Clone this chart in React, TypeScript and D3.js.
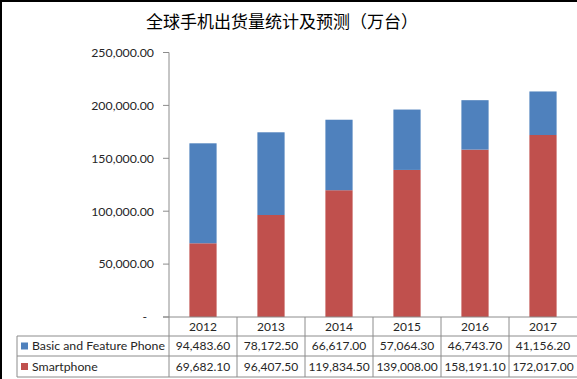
import React from "react";
import * as d3 from "d3";

const title = "全球手机出货量统计及预测（万台）";
const years = ["2012", "2013", "2014", "2015", "2016", "2017"];
const seriesNames = ["Basic and Feature Phone", "Smartphone"];
const basicValues = [94483.6, 78172.5, 66617.0, 57064.3, 46743.7, 41156.2];
const smartValues = [69682.1, 96407.5, 119834.5, 139008.0, 158191.1, 172017.0];
const yTicks = [0, 50000, 100000, 150000, 200000, 250000];
const colors = ["#4F81BD", "#C0504D"];

const W = 577;
const H = 379;
const plotLeft = 169;
const plotRight = 577;
const plotTop = 52.5;
const plotBottom = 317;
const rowLines = [317, 336, 356, 377];
const font = "Lato, 'Open Sans', sans-serif";
const textColor = "#262626";
const gridColor = "#8c8c8c";

export default function App() {
  const x = d3
    .scaleBand<string>()
    .domain(years)
    .range([plotLeft, plotRight])
    .paddingInner(0.6)
    .paddingOuter(0.3);
  const col = d3.scaleBand<string>().domain(years).range([plotLeft, plotRight]).padding(0);
  const y = d3.scaleLinear().domain([0, 250000]).range([plotBottom, plotTop]);
  const fmt = d3.format(",.2f");

  const data = years.map((yr, i) => ({ year: yr, smart: smartValues[i], basic: basicValues[i] }));
  const stack = d3.stack<any>().keys(["smart", "basic"])(data);
  const colorFor: Record<string, string> = { smart: colors[1], basic: colors[0] };

  const rows = [
    { name: seriesNames[0], color: colors[0], values: basicValues },
    { name: seriesNames[1], color: colors[1], values: smartValues },
  ];

  return (
    <div style={{ position: "absolute", left: 0, top: 0 }}>
      <svg width={W} height={H} style={{ display: "block", background: "#fff" }}>
        <rect x={0} y={0} width={W} height={H} fill="#fff" />
        {/* frame */}
        <line x1={0} y1={1} x2={W} y2={1} stroke="#000" strokeWidth={2} />
        <line x1={1} y1={0} x2={1} y2={H} stroke="#000" strokeWidth={2} />

        <text
          x={282}
          y={28}
          textAnchor="middle"
          fontFamily="'Noto Sans CJK SC', sans-serif"
          fontSize={17}
          fill="#000"
        >
          {title}
        </text>

        {/* bars */}
        {stack.map((layer) => (
          <g key={layer.key} fill={colorFor[layer.key]}>
            {layer.map((d, i) => (
              <rect
                key={i}
                x={x(years[i])}
                y={y(d[1])}
                width={x.bandwidth()}
                height={y(d[0]) - y(d[1])}
              />
            ))}
          </g>
        ))}

        {/* y axis */}
        <line x1={plotLeft} y1={plotTop} x2={plotLeft} y2={H - 2} stroke={gridColor} strokeWidth={1} />
        {yTicks.map((t) => (
          <g key={t}>
            <line x1={plotLeft - 6} x2={plotLeft} y1={y(t)} y2={y(t)} stroke={gridColor} />
            <text
              x={t === 0 ? 147 : 154}
              y={y(t)}
              dy="0.35em"
              textAnchor="end"
              fontFamily={font}
              fontSize={12.3}
              fill={textColor}
            >
              {t === 0 ? "-" : fmt(t)}
            </text>
          </g>
        ))}

        {/* data table */}
        <line x1={plotLeft - 6} x2={W} y1={rowLines[0]} y2={rowLines[0]} stroke={gridColor} />
        {rowLines.slice(1).map((ly) => (
          <line key={ly} x1={17} x2={W} y1={ly} y2={ly} stroke={gridColor} />
        ))}
        <line x1={17} x2={17} y1={rowLines[1]} y2={rowLines[3]} stroke={gridColor} />
        {years.slice(1).map((yr) => (
          <line
            key={yr}
            x1={col(yr)}
            x2={col(yr)}
            y1={rowLines[0]}
            y2={rowLines[3]}
            stroke={gridColor}
          />
        ))}
        {years.map((yr) => (
          <text
            key={yr}
            x={(col(yr) as number) + col.bandwidth() / 2}
            y={(rowLines[0] + rowLines[1]) / 2 + 0.5}
            dy="0.35em"
            textAnchor="middle"
            fontFamily={font}
            fontSize={12}
            fill={textColor}
          >
            {yr}
          </text>
        ))}
        {rows.map((r, ri) => {
          const cy = (rowLines[ri + 1] + rowLines[ri + 2]) / 2;
          return (
            <g key={r.name}>
              <rect x={21} y={cy - 3.5} width={7} height={7} fill={r.color} />
              <text x={32} y={cy} dy="0.35em" fontFamily={font} fontSize={12.3} fill={textColor}>
                {r.name}
              </text>
              {r.values.map((v, i) => (
                <text
                  key={i}
                  x={(col(years[i]) as number) + col.bandwidth() / 2}
                  y={cy}
                  dy="0.35em"
                  textAnchor="middle"
                  fontFamily={font}
                  fontSize={12}
                  fill={textColor}
                >
                  {fmt(v)}
                </text>
              ))}
            </g>
          );
        })}
      </svg>
    </div>
  );
}
